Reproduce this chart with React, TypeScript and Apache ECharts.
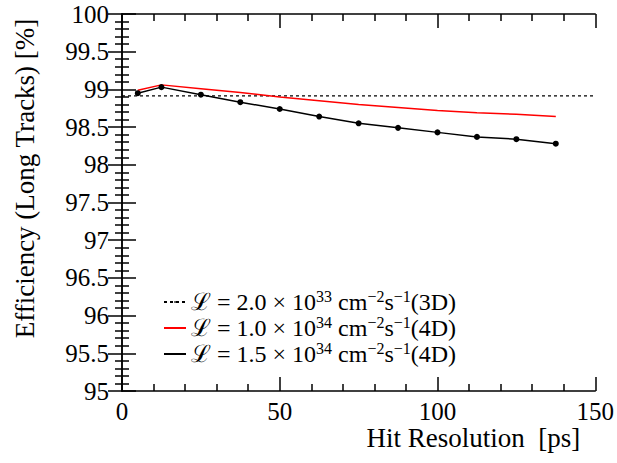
import React, { useEffect, useRef } from "react";
import * as echarts from "echarts";

const xVals = [5, 12.5, 25, 37.5, 50, 62.5, 75, 87.5, 100, 112.5, 125, 137.5];
const eff15e34 = [98.95, 99.03, 98.93, 98.83, 98.74, 98.64, 98.55, 98.49, 98.43, 98.37, 98.34, 98.28];
const eff10e34 = [98.99, 99.06, 99.01, 98.96, 98.9, 98.85, 98.8, 98.76, 98.72, 98.69, 98.67, 98.64];
const eff3DLevel = 98.915;
const xRange = [0, 150];

const seriesNames = [
  "ℒ = 2.0 × 10³³ cm⁻²s⁻¹(3D)",
  "ℒ = 1.0 × 10³⁴ cm⁻²s⁻¹(4D)",
  "ℒ = 1.5 × 10³⁴ cm⁻²s⁻¹(4D)",
];
const legendRich = [
  "{t|ℒ = 2.0 × 10}{s|33}{t| cm}{s|−2}{t|s}{s|−1}{t|(3D)}",
  "{t|ℒ = 1.0 × 10}{s|34}{t| cm}{s|−2}{t|s}{s|−1}{t|(4D)}",
  "{t|ℒ = 1.5 × 10}{s|34}{t| cm}{s|−2}{t|s}{s|−1}{t|(4D)}",
];

const FONT = "Liberation Serif";

export default function App() {
  const ref = useRef<HTMLDivElement>(null);
  useEffect(() => {
    if (!ref.current) return;
    const chart = echarts.init(ref.current, undefined, { renderer: "svg" });
    const axisLine = { show: true, lineStyle: { color: "#000", width: 1.5 } };
    const yCommon = {
      type: "value",
      min: 95,
      max: 100,
      interval: 0.5,
      axisLine,
      axisTick: { show: true, inside: true, length: 14, lineStyle: { color: "#000", width: 1.5 } },
      minorTick: { show: true, splitNumber: 5, length: 7, lineStyle: { color: "#000", width: 1.5 } },
      splitLine: { show: false },
    };
    const xCommon = {
      type: "value",
      min: 0,
      max: 150,
      interval: 50,
      axisLine,
      axisTick: { show: true, inside: true, length: 14, lineStyle: { color: "#000", width: 1.5 } },
      minorTick: { show: true, splitNumber: 5, length: 7, lineStyle: { color: "#000", width: 1.5 } },
      splitLine: { show: false },
    };
    chart.setOption({
      animation: false,
      backgroundColor: "#fff",
      textStyle: { fontFamily: FONT },
      grid: { left: 122, right: 20, top: 14, bottom: 72, containLabel: false },
      xAxis: [
        {
          ...xCommon,
          position: "bottom",
          axisLabel: { color: "#000", fontSize: 25, fontFamily: FONT, margin: 8 },
          name: "Hit Resolution  [ps]",
          nameLocation: "end",
          nameGap: -15,
          nameTextStyle: {
            color: "#000",
            fontSize: 27,
            fontFamily: FONT,
            align: "right",
            verticalAlign: "top",
            padding: [33, 0, 0, 0],
          },
        },
        { ...xCommon, position: "top", axisLabel: { show: false } },
      ],
      yAxis: [
        {
          ...yCommon,
          position: "left",
          axisLabel: { color: "#000", fontSize: 25, fontFamily: FONT, margin: 13 },
          name: "Efficiency (Long Tracks) [%]",
          nameLocation: "middle",
          nameGap: 84,
          nameTextStyle: {
            color: "#000",
            fontSize: 27,
            fontFamily: FONT,
            padding: [0, 0, 0, 48],
          },
        },
        { ...yCommon, position: "right", axisLabel: { show: false } },
      ],
      legend: {
        left: 158,
        top: 283,
        orient: "vertical",
        itemWidth: 22,
        itemHeight: 2,
        itemGap: 0,
        data: seriesNames,
        formatter: (name: string) => legendRich[seriesNames.indexOf(name)],
        textStyle: {
          color: "#000",
          fontFamily: FONT,
          fontSize: 24,
          rich: {
            t: { fontSize: 24, fontFamily: FONT, color: "#000", lineHeight: 28 },
            s: { fontSize: 16, fontFamily: FONT, color: "#000", lineHeight: 16, verticalAlign: "top" },
          },
        },
      },
      series: [
        {
          name: seriesNames[0],
          type: "line",
          data: xRange.map((x) => [x, eff3DLevel]),
          symbol: "none",
          lineStyle: { color: "#000", width: 1.2, type: [3, 3] },
          itemStyle: { color: "#000" },
        },
        {
          name: seriesNames[1],
          type: "line",
          data: xVals.map((x, i) => [x, eff10e34[i]]),
          symbol: "none",
          lineStyle: { color: "#ff0000", width: 1.5 },
          itemStyle: { color: "#ff0000" },
        },
        {
          name: seriesNames[2],
          type: "line",
          data: xVals.map((x, i) => [x, eff15e34[i]]),
          symbol: "circle",
          symbolSize: 6,
          lineStyle: { color: "#000", width: 1.5 },
          itemStyle: { color: "#000" },
        },
      ],
    });
    return () => chart.dispose();
  }, []);
  return <div ref={ref} style={{ width: 617, height: 463, position: "absolute", left: 0, top: 0 }} />;
}
